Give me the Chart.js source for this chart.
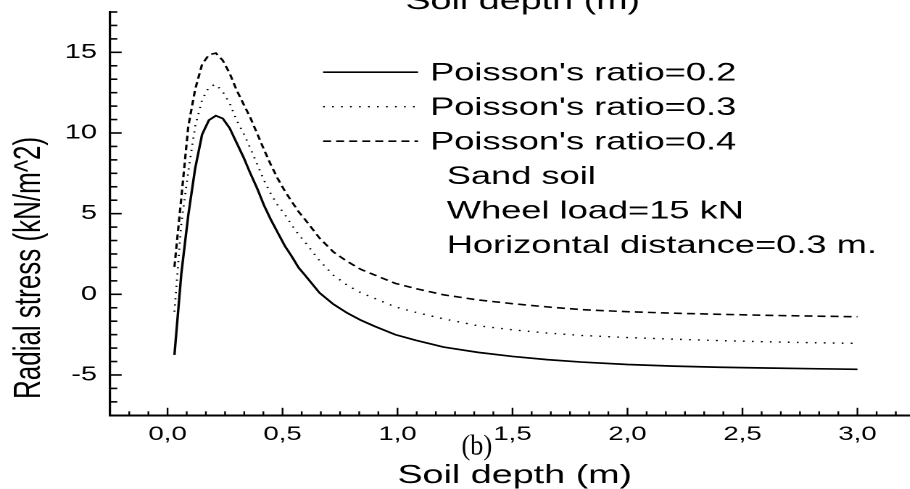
<!DOCTYPE html>
<html><head><meta charset="utf-8">
<script src="https://cdn.jsdelivr.net/npm/chart.js@4.4.0/dist/chart.umd.min.js"></script>
<style>
html,body{margin:0;padding:0;background:#fff;overflow:hidden;width:910px;height:489px;}
#wrap{position:absolute;left:0;top:0;width:640px;height:489px;transform:scaleX(1.45);transform-origin:0 0;}
</style></head><body>
<div id="wrap"><canvas id="c"></canvas></div>
<script>
const soilDepth = [0.03,0.06,0.09,0.12,0.15,0.18,0.21,0.24,0.27,0.30,0.33,0.36,0.39,0.42,0.45,0.48,0.51,0.54,0.57,0.60,0.66,0.72,0.78,0.84,0.90,0.99,1.08,1.20,1.35,1.50,1.65,1.80,2.00,2.20,2.40,2.60,2.80,3.00];
const stressNu02 = [-3.76,1.3,4.9,7.8,9.9,10.8,11.07,10.9,10.3,9.4,8.5,7.5,6.55,5.5,4.6,3.8,3.0,2.35,1.65,1.15,0.1,-0.6,-1.15,-1.6,-1.98,-2.5,-2.85,-3.27,-3.6,-3.85,-4.05,-4.2,-4.35,-4.45,-4.52,-4.57,-4.61,-4.65];
const stressNu03 = [-1.08,4.4,7.6,10.4,12.05,12.85,13.02,12.55,11.85,10.8,10.0,9.05,8.05,7.05,6.2,5.5,4.95,4.3,3.7,3.2,2.1,1.2,0.58,0.1,-0.25,-0.78,-1.12,-1.52,-1.95,-2.2,-2.4,-2.55,-2.68,-2.78,-2.87,-2.94,-3.0,-3.04];
const stressNu04 = [1.7,6.0,10.4,12.7,14.25,14.85,14.95,14.5,13.7,12.67,11.8,10.95,9.95,8.95,8.0,7.15,6.4,5.75,5.12,4.6,3.5,2.64,2.05,1.55,1.2,0.68,0.35,-0.03,-0.35,-0.58,-0.78,-0.95,-1.08,-1.17,-1.24,-1.3,-1.35,-1.39];
const seriesLabels = ["Poisson's ratio=0.2","Poisson's ratio=0.3","Poisson's ratio=0.4"];
const noteLines = ["Sand soil","Wheel load=15 kN","Horizontal distance=0.3 m."];
const xMajorTicks = [0,0.5,1,1.5,2,2.5,3];
const xTickLabels = ['0,0','0,5','1,0','1,5','2,0','2,5','3,0'];
const yMajorTicks = [-5,0,5,10,15];
const yTickLabels = ['-5','0','5','10','15'];
const xTitle = 'Soil depth (m)';
const yTitle = 'Radial stress (kN/m^2)';
const panelLabel = '(b)';

const SANS = '"Liberation Sans", Arial, sans-serif';
const SERIF = '"Liberation Serif", "Times New Roman", serif';

function findMajor(list, v){ return list.findIndex(m => Math.abs(m - v) < 1e-6); }
function minorTicks(min, max, step){ const a=[]; const n=Math.round((max-min)/step); for(let k=0;k<=n;k++) a.push({value:min+k*step}); return a; }
function noPad(s){ s.paddingTop = 0; s.paddingBottom = 0; s.paddingLeft = 0; s.paddingRight = 0; }

const pts = arr => arr.map((y,i)=>({x:soilDepth[i], y}));

const decor = {
  id:'decor',
  afterDraw(chart){
    const ctx = chart.ctx, xs = chart.scales.x, ys = chart.scales.y, ca = chart.chartArea;
    ctx.save();
    ctx.strokeStyle = '#000'; ctx.fillStyle = '#000';
    ctx.lineWidth = 1.2;
    xs.ticks.forEach(t=>{
      const px = xs.getPixelForValue(t.value);
      const len = findMajor(xMajorTicks, t.value) >= 0 ? 7.5 : 4;
      ctx.beginPath(); ctx.moveTo(px, ca.bottom); ctx.lineTo(px, ca.bottom - len); ctx.stroke();
    });
    ctx.lineWidth = 1.6;
    ys.ticks.forEach(t=>{
      const py = ys.getPixelForValue(t.value);
      const len = findMajor(yMajorTicks, t.value) >= 0 ? 8 : 5;
      ctx.beginPath(); ctx.moveTo(ca.left, py); ctx.lineTo(ca.left + len, py); ctx.stroke();
    });
    const base = [80.7, 115.2, 149.7];
    chart.data.datasets.forEach((ds,i)=>{
      ctx.save();
      ctx.lineWidth = ds.borderWidth; ctx.setLineDash(ds.borderDash || []);
      ctx.beginPath(); ctx.moveTo(222.8, base[i]-8.5); ctx.lineTo(288.3, base[i]-8.5); ctx.stroke();
      ctx.restore();
      ctx.font = '25px ' + SANS; ctx.textAlign='left'; ctx.textBaseline='alphabetic';
      ctx.fillText(ds.label, 296.6, base[i]);
    });
    const nb = [184.2, 218.7, 253.2];
    noteLines.forEach((t,i)=>{ ctx.font='25px '+SANS; ctx.fillText(t, 308.1, nb[i]); });
    ctx.font = '26px ' + SANS; ctx.textAlign='center'; ctx.textBaseline='alphabetic';
    ctx.fillText(xTitle, 355, 483);
    ctx.fillText(xTitle, 360.5, 9);
    ctx.save();
    ctx.translate(27.6, 399); ctx.rotate(-Math.PI/2);
    ctx.textAlign='left'; ctx.fillText(yTitle, 0, 0);
    ctx.restore();
    ctx.save();
    ctx.translate(328.8, 454.6); ctx.scale(0.65, 1);
    ctx.font = '28px ' + SERIF; ctx.textAlign='center';
    ctx.fillText(panelLabel, 0, 0);
    ctx.restore();
    ctx.restore();
  }
};

new Chart(document.getElementById('c'), {
  type:'line',
  data:{ datasets:[
    {label:seriesLabels[0], data:pts(stressNu02), borderColor:'#000', borderWidth:1.7, borderDash:[], pointRadius:0, tension:0, fill:false},
    {label:seriesLabels[1], data:pts(stressNu03), borderColor:'#000', borderWidth:1.4, borderDash:[1.2,5], pointRadius:0, tension:0, fill:false},
    {label:seriesLabels[2], data:pts(stressNu04), borderColor:'#000', borderWidth:1.6, borderDash:[5.5,3.5], pointRadius:0, tension:0, fill:false}
  ]},
  options:{
    responsive:true, maintainAspectRatio:false, animation:false, devicePixelRatio:2,
    layout:{padding:{left:0, top:12, right:9, bottom:0}},
    plugins:{legend:{display:false}, tooltip:{enabled:false}},
    scales:{
      x:{ type:'linear', min:-0.25, max:3.25,
        afterBuildTicks:s=>{ s.ticks = minorTicks(-0.25, 3.25, 1/12); },
        afterFit:s=>{ s.height = 73.7; noPad(s); },
        grid:{display:false, drawTicks:false},
        border:{display:true, color:'#000', width:2},
        ticks:{autoSkip:false, maxRotation:0, padding:8, color:'#000', font:{family:SANS, size:19},
          callback:v=>{ const i=findMajor(xMajorTicks, v); return i>=0 ? xTickLabels[i] : ''; } }
      },
      y:{ type:'linear', min:-7.5, max:17.5,
        afterBuildTicks:s=>{ s.ticks = minorTicks(-7.5, 17.5, 5/6); },
        afterFit:s=>{ s.width = 75.9; noPad(s); },
        grid:{display:false, drawTicks:false},
        border:{display:true, color:'#000', width:1.6},
        ticks:{autoSkip:false, padding:9, color:'#000', font:{family:SANS, size:20},
          callback:v=>{ const i=findMajor(yMajorTicks, v); return i>=0 ? yTickLabels[i] : ''; } }
      }
    }
  },
  plugins:[decor]
});
</script>
</body></html>
